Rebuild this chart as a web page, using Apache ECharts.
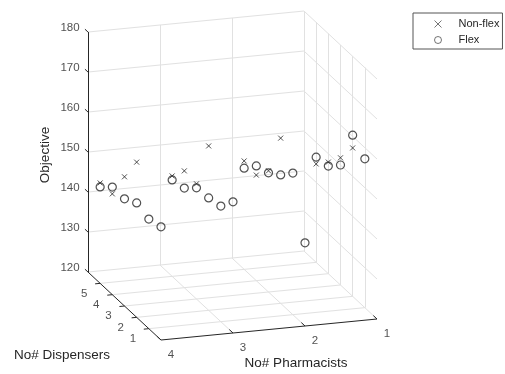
<!DOCTYPE html>
<html>
<head>
<meta charset="utf-8">
<script src="https://cdn.jsdelivr.net/npm/echarts@6/dist/echarts.min.js"></script>
<style>html,body{margin:0;padding:0;background:#fff}#chart{width:505px;height:374px}</style>
</head>
<body>
<div id="chart"></div>
<script>
// tick values
const pharmacistTicks = [1, 2, 3, 4];
const dispenserTicks = [1, 2, 3, 4, 5];
const objectiveTicks = [120, 130, 140, 150, 160, 170, 180];

// Flex: dispensers 0..5 for each pharmacist count
const flexDispensers = [0, 1, 2, 3, 4, 5];
const flexPharm1 = [null, 157.2, 160.3, 150.0, 146.9, 146.3];
const flexPharm2 = [140.8, 155.4, 152.1, 149.8, 148.7, 145.3];
const flexPharm3 = [152.8, 148.9, 148.1, 147.8, 144.9, 144.1];
const flexPharm4 = [148.3, 147.4, 148.6, 146.8, 146.9, 144.1];

// Non-flex: dispensers 2..5
const nonFlexDispensers = [2, 3, 4, 5];
const nonFlexPharm1 = [157.1, 151.8, 147.9, 144.6];
const nonFlexPharm2 = [161.3, 150.3, 146.4, 147.1];
const nonFlexPharm3 = [161.1, 148.8, 149.2, 145.1];
const nonFlexPharm4 = [158.8, 152.3, 145.2, 145.1];

// box limits
const pLim = [1, 4], dLim = [0, 6], zLim = [120, 180];

// fixed oblique view: screen px per data unit, origin at (p=4, d=0, z=120)
function proj(p, d, z) {
  return [161 - (p - 4) * 72 - d * 12.17, 340 + (p - 4) * 7 - d * 11.33 - (z - 120) * 4];
}

const FONT = '"Liberation Sans", Arial, sans-serif';
const INK = '#262626';

function points(byPharm, dispensers) {
  const out = [];
  byPharm.forEach(([p, vals]) => vals.forEach((z, i) => {
    if (z != null) out.push([...proj(p, dispensers[i], z), p, dispensers[i], z]);
  }));
  return out;
}
const flexData = points([[1, flexPharm1], [2, flexPharm2], [3, flexPharm3], [4, flexPharm4]], flexDispensers);
const nonFlexData = points([[1, nonFlexPharm1], [2, nonFlexPharm2], [3, nonFlexPharm3], [4, nonFlexPharm4]], nonFlexDispensers);

// grid lines on the three back planes
const gridSegs = [];
objectiveTicks.forEach(z => gridSegs.push([proj(pLim[1], dLim[1], z), proj(pLim[0], dLim[1], z)]));
pharmacistTicks.filter(p => p < pLim[1]).forEach(p => gridSegs.push([proj(p, dLim[1], zLim[0]), proj(p, dLim[1], zLim[1])]));
objectiveTicks.forEach(z => gridSegs.push([proj(pLim[0], dLim[1], z), proj(pLim[0], dLim[0], z)]));
dispenserTicks.forEach(d => gridSegs.push([proj(pLim[0], d, zLim[0]), proj(pLim[0], d, zLim[1])]));
dispenserTicks.forEach(d => gridSegs.push([proj(pLim[1], d, zLim[0]), proj(pLim[0], d, zLim[0])]));
pharmacistTicks.filter(p => p > pLim[0] && p < pLim[1]).forEach(p => gridSegs.push([proj(p, dLim[1], zLim[0]), proj(p, dLim[0], zLim[0])]));

// axis lines and ticks
const axisSegs = [
  [proj(pLim[1], dLim[1], zLim[0]), proj(pLim[1], dLim[1], zLim[1])],
  [proj(pLim[1], dLim[1], zLim[0]), proj(pLim[1], dLim[0], zLim[0])],
  [proj(pLim[1], dLim[0], zLim[0]), proj(pLim[0], dLim[0], zLim[0])]
];
objectiveTicks.forEach(z => axisSegs.push([proj(pLim[1], dLim[1], z), proj(pLim[1], dLim[1] + 0.25, z)]));
dispenserTicks.forEach(d => axisSegs.push([proj(pLim[1], d, zLim[0]), proj(pLim[1] + 0.07, d, zLim[0])]));
pharmacistTicks.forEach(p => axisSegs.push([proj(p, dLim[0], zLim[0]), proj(p, dLim[0] + 0.3, zLim[0])]));

function shift(pt, dx, dy) { return [pt[0] + dx, pt[1] + dy]; }
const tickLabels = [
  ...objectiveTicks.map(z => [...shift(proj(pLim[1], dLim[1], z), -18, -4), String(z)]),
  ...dispenserTicks.map(d => [...shift(proj(pLim[1], d, zLim[0]), -16, 10), String(d)]),
  ...pharmacistTicks.map(p => [...shift(proj(p, dLim[0], zLim[0]), 10, 15), String(p)])
];

const crossPath = 'path://M0,0L10,10M10,0L0,10';

const chart = echarts.init(document.getElementById('chart'), null, { renderer: 'canvas' });
chart.setOption({
  animation: false,
  backgroundColor: '#fff',
  grid: { left: 0, right: 0, top: 0, bottom: 0 },
  xAxis: { type: 'value', min: 0, max: 505, show: false },
  yAxis: { type: 'value', min: 0, max: 374, inverse: true, show: false },
  legend: {
    orient: 'vertical', left: 413, top: 13,
    padding: [4, 3, 2, 19], itemGap: 2, itemWidth: 7, itemHeight: 7,
    borderColor: '#555', borderWidth: 1,
    itemStyle: { color: 'none', borderColor: INK, borderWidth: 0.8 },
    textStyle: { fontFamily: FONT, fontSize: 11, color: INK, lineHeight: 14, padding: [0, 0, 0, 12] },
    data: [{ name: 'Non-flex', icon: crossPath }, { name: 'Flex', icon: 'circle' }]
  },
  graphic: [
    { type: 'text', x: 45, y: 155, rotation: Math.PI / 2, style: { text: 'Objective', font: '13.5px ' + FONT, fill: INK, align: 'center', verticalAlign: 'middle' } },
    { type: 'text', x: 62, y: 355, style: { text: 'No# Dispensers', font: '13.5px ' + FONT, fill: INK, align: 'center', verticalAlign: 'middle' } },
    { type: 'text', x: 296, y: 363, style: { text: 'No# Pharmacists', font: '13.5px ' + FONT, fill: INK, align: 'center', verticalAlign: 'middle' } }
  ],
  series: [
    { type: 'lines', coordinateSystem: 'cartesian2d', silent: true, z: 1,
      lineStyle: { color: '#e1e1e1', width: 1, opacity: 1 },
      data: gridSegs.map(c => ({ coords: c })) },
    { type: 'lines', coordinateSystem: 'cartesian2d', silent: true, z: 2,
      lineStyle: { color: INK, width: 1, opacity: 1 },
      data: axisSegs.map(c => ({ coords: c })) },
    { type: 'scatter', silent: true, z: 3, symbolSize: 1,
      itemStyle: { color: 'rgba(0,0,0,0)' },
      label: { show: true, position: 'inside', formatter: p => p.value[2], color: INK, fontFamily: FONT, fontSize: 11.5 },
      data: tickLabels },
    { name: 'Non-flex', type: 'scatter', z: 4, symbol: crossPath, symbolSize: 5,
      itemStyle: { color: 'none', borderColor: INK, borderWidth: 1 },
      data: nonFlexData },
    { name: 'Flex', type: 'scatter', z: 5, symbol: 'circle', symbolSize: 8,
      itemStyle: { color: 'none', borderColor: INK, borderWidth: 1.2 },
      data: flexData }
  ]
});
</script>
</body>
</html>
